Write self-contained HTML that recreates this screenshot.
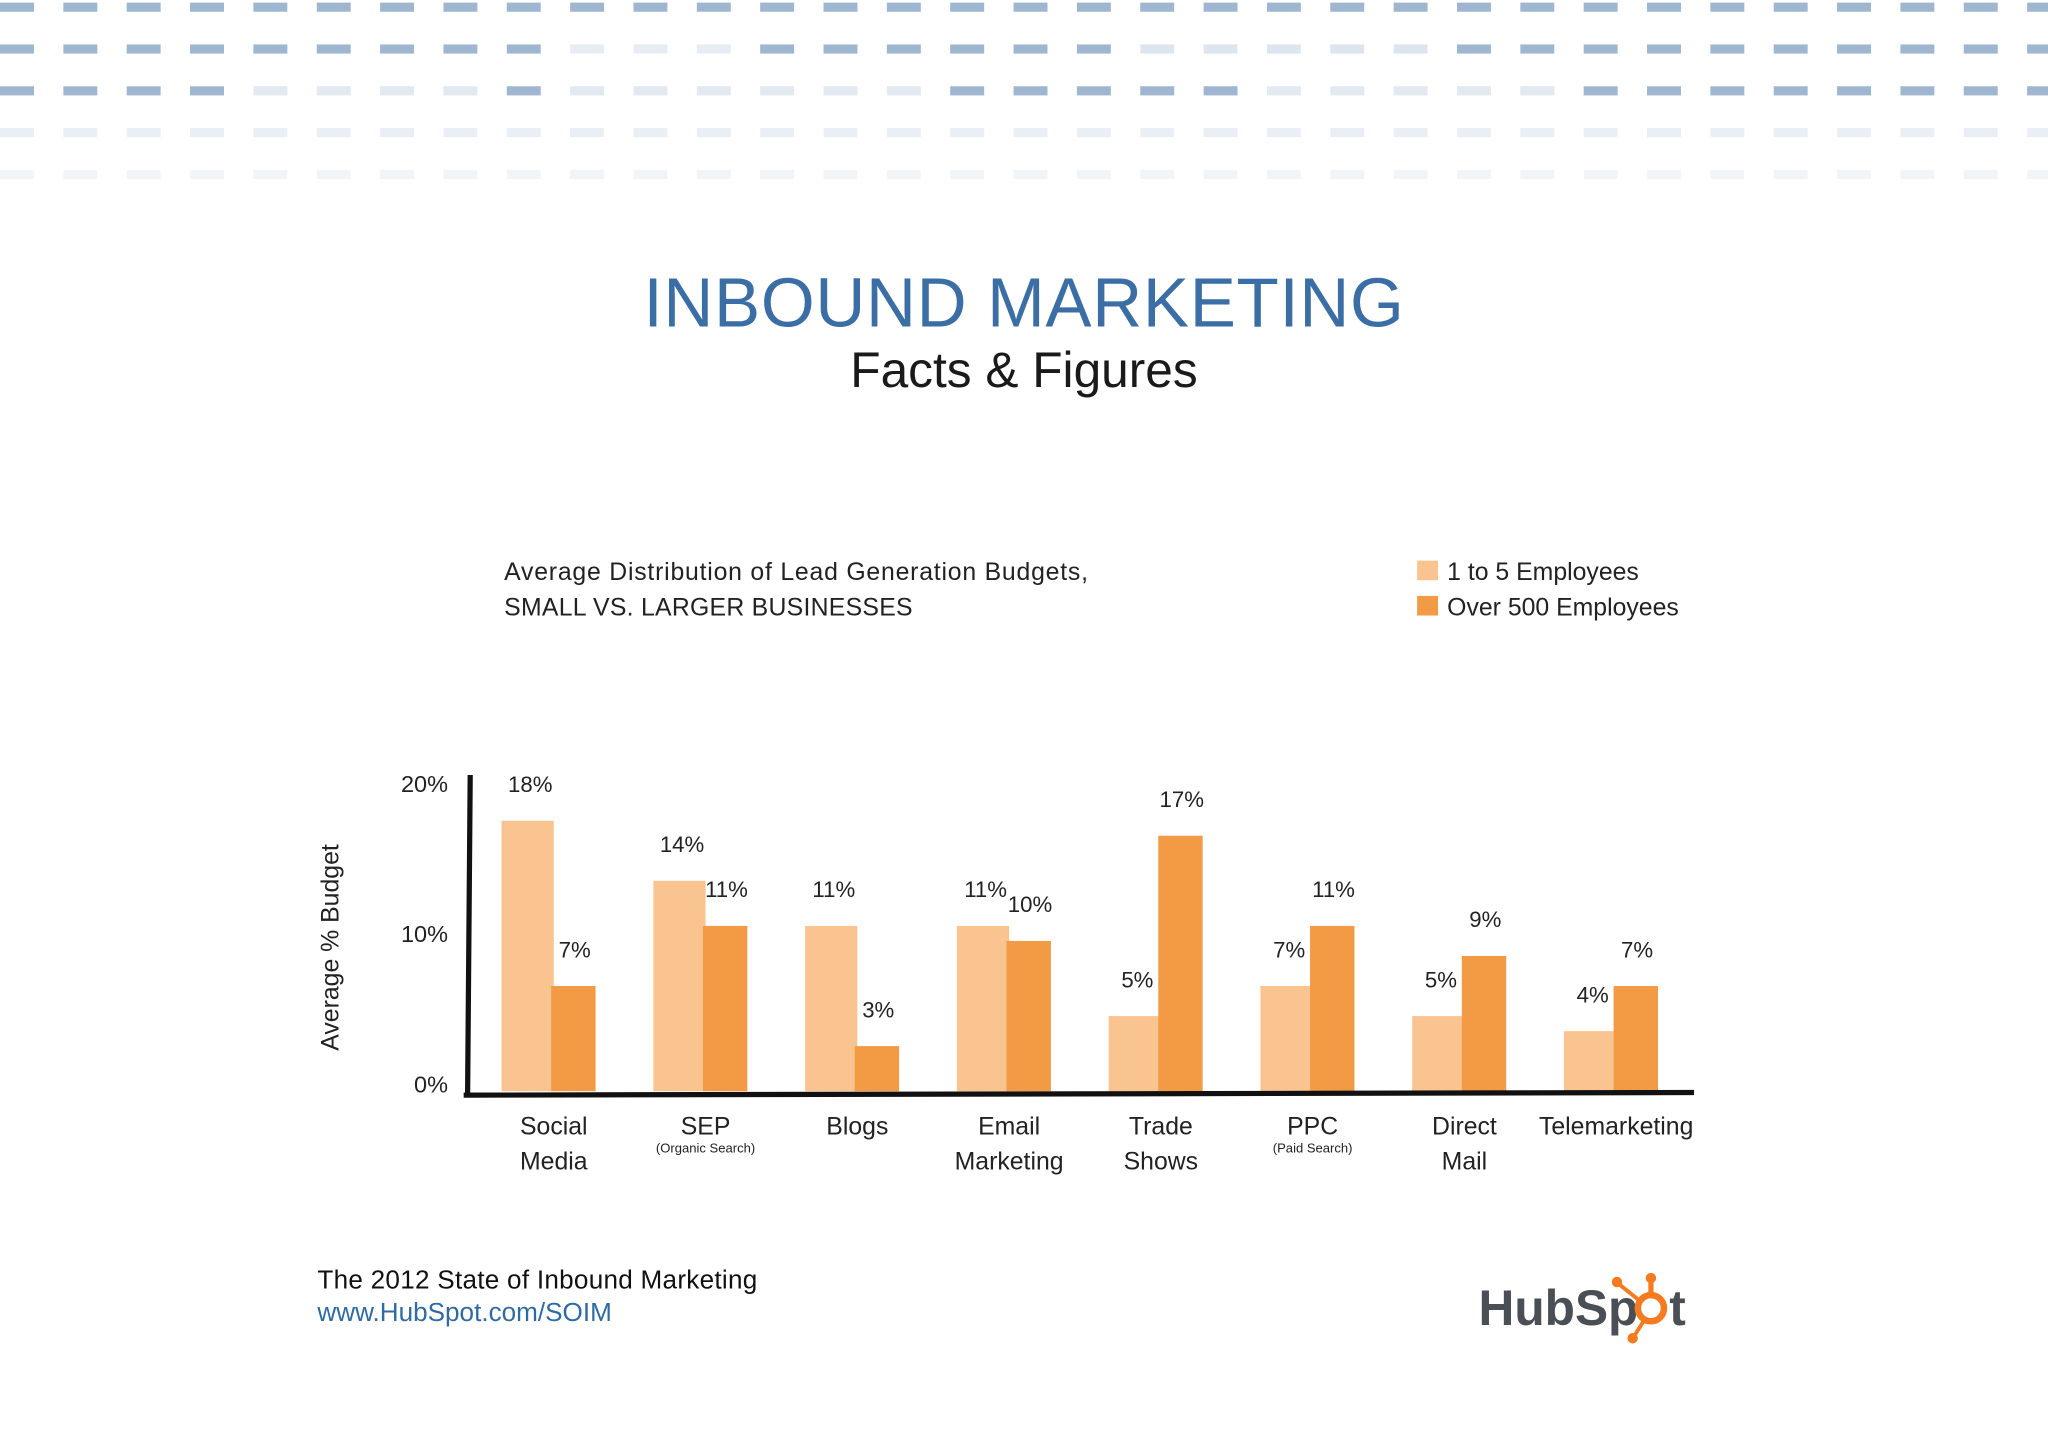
<!DOCTYPE html>
<html><head><meta charset="utf-8"><style>
html,body{margin:0;padding:0;background:#fff;}
svg{display:block;}
text{font-family:"Liberation Sans",sans-serif;}
</style></head><body>
<svg id="root" width="2048" height="1448" viewBox="0 0 1568 1108" preserveAspectRatio="none" xmlns="http://www.w3.org/2000/svg">
<rect width="1568" height="1108" fill="#fff"/>
<g id="pattern"></g>
<text x="784" y="250" text-anchor="middle" font-size="53" fill="#3a6ea5" letter-spacing="0.5">INBOUND MARKETING</text>
<text x="784" y="296" text-anchor="middle" font-size="38" fill="#1a1a1a">Facts &amp; Figures</text>
<text x="386" y="444" font-size="19" fill="#222" letter-spacing="0.6">Average Distribution of Lead Generation Budgets,</text>
<text x="386" y="471" font-size="19" fill="#222" letter-spacing="0.2">SMALL VS. LARGER BUSINESSES</text>
<g>
<rect x="1085" y="429" width="16" height="15" fill="#f9c48f"/>
<text x="1108" y="444" font-size="19" fill="#222">1 to 5 Employees</text>
<rect x="1085" y="456" width="16" height="15" fill="#f39a45"/>
<text x="1108" y="471" font-size="19" fill="#222">Over 500 Employees</text>
</g>
<text transform="translate(259,725) rotate(-90)" text-anchor="middle" font-size="19" fill="#222">Average % Budget</text>
<g id="chart"></g>
<text x="243" y="986" font-size="20" fill="#111" letter-spacing="0.2">The 2012 State of Inbound Marketing</text>
<text x="243" y="1011" font-size="20" fill="#2f6aa3">www.HubSpot.com/SOIM</text>
<g>
<text x="1132" y="1014" font-size="38" font-weight="bold" fill="#4a4f55">HubSp</text>
<circle cx="1264" cy="1001" r="10" fill="none" stroke="#f47b20" stroke-width="5"/>
<line x1="1264" y1="991" x2="1264" y2="980" stroke="#f47b20" stroke-width="4"/>
<circle cx="1264" cy="978" r="4" fill="#f47b20"/>
<line x1="1255" y1="995" x2="1240" y2="983" stroke="#f47b20" stroke-width="3"/>
<circle cx="1238" cy="981" r="4" fill="#f47b20"/>
<line x1="1259" y1="1010" x2="1252" y2="1021" stroke="#f47b20" stroke-width="3"/>
<circle cx="1250" cy="1024" r="4" fill="#f47b20"/>
<text x="1278" y="1014" font-size="38" font-weight="bold" fill="#4a4f55">t</text>
</g>
</svg>
<script>
const categories=["Social|Media","SEP|(Organic Search)","Blogs","Email|Marketing","Trade|Shows","PPC|(Paid Search)","Direct|Mail","Telemarketing"];
const smallValues=[18,14,11,11,5,7,5,4];
const largeValues=[7,11,3,10,17,11,9,7];
const yTicks=[0,10,20];
const NS="http://www.w3.org/2000/svg";
function mk(tag,attrs,parent){const e=document.createElementNS(NS,tag);for(const k in attrs)e.setAttribute(k,attrs[k]);parent.appendChild(e);return e;}
const pat=document.getElementById('pattern');
const rowOp=[[1],[1,1,1,1,1,1,1,1,1,0.25,0.25,0.25,1,1,1,1,1,1,0.35,0.35,0.35,0.35,0.35,1,1,1,1,1,1,1,1,1,1],[1,1,1,1,0.3,0.3,0.3,0.3,1,0.3,0.3,0.3,0.3,0.3,0.3,1,1,1,1,1,0.3,0.3,0.3,0.3,0.3,1,1,1,1,1,1,1,1],[0.22],[0.14]];
for(let r=0;r<5;r++){for(let i=0;i<33;i++){const o=rowOp[r].length>1?rowOp[r][i]:rowOp[r][0];
const d=mk('rect',{x:i*48.5,y:2+r*32,width:26,height:7,fill:'#9fb6d0',opacity:o},pat);

}}
const g=document.getElementById('chart');
const y0=835,pxPer=11.5;
const yScale=v=>y0-v*pxPer;
const xGroup=i=>384+i*116.2;
yTicks.forEach(t=>{const e=mk('text',{x:343,y:yScale(t)+1,'text-anchor':'end','font-size':18,fill:'#222'},g);e.textContent=t+'%';

});
categories.forEach((c,i)=>{
 const x=xGroup(i);
 const b1=mk('rect',{x:x,y:yScale(smallValues[i]),width:40,height:smallValues[i]*pxPer,fill:'#f9c48f'},g);
 
 
 const b2=mk('rect',{x:x+38,y:yScale(largeValues[i]),width:34,height:largeValues[i]*pxPer,fill:'#f39a45'},g);
 
 
 const l1=mk('text',{x:x+22,y:yScale(smallValues[i])-22,'text-anchor':'middle','font-size':17,fill:'#222'},g);l1.textContent=smallValues[i]+'%';
 
 
 const l2=mk('text',{x:x+56,y:yScale(largeValues[i])-22,'text-anchor':'middle','font-size':17,fill:'#222'},g);l2.textContent=largeValues[i]+'%';
 
 
 const parts=c.split('|');const cx=x+40;
 const t1=mk('text',{x:cx,y:868,'text-anchor':'middle','font-size':19,fill:'#222'},g);t1.textContent=parts[0];
 
 
 if(parts[1]){const sm=parts[1].startsWith('(');
  const t2=mk('text',{x:cx,y:sm?882:895,'text-anchor':'middle','font-size':sm?10:19,fill:'#222'},g);t2.textContent=parts[1];
  
  }
});
const ya=mk('line',{x1:360,y1:593,x2:358,y2:838,stroke:'#111','stroke-width':4},g);


const xa=mk('line',{x1:355,y1:838,x2:1297,y2:836,stroke:'#111','stroke-width':4},g);


</script>
</body></html>
